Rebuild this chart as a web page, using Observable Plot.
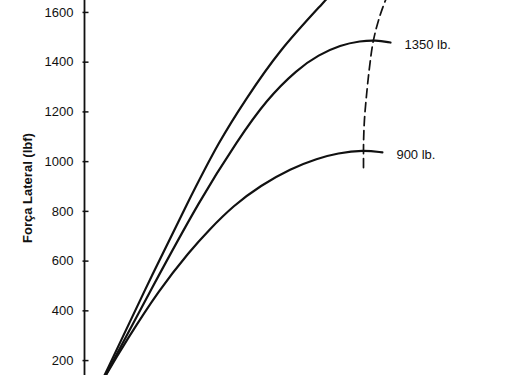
<!DOCTYPE html>
<html>
<head>
<meta charset="utf-8">
<script src="https://cdn.jsdelivr.net/npm/d3@7"></script>
<script src="https://cdn.jsdelivr.net/npm/@observablehq/plot@0.6"></script>
<style>
  html, body { margin: 0; padding: 0; background: #fff; }
  svg { display: block; }
  g[aria-label="y-axis label"] text { font-weight: bold; }
</style>
</head>
<body>
<div id="chart"></div>
<script>
// Slip angle (arbitrary degrees, x axis not visible in the picture) and lateral force (lbf)
const angleUpper = [0.1, 0.67, 2.0, 3.47, 4.5, 5.35, 6.48, 8.03, 8.87];
const forceUpper = [0, 140, 482, 844, 1085, 1246, 1447, 1648, 1761];

const angle1350 = [0.1, 0.73, 2.2, 3.87, 5.1, 6.07, 7.1, 7.8, 8.53, 9.2, 9.7, 10.2];
const force1350 = [0, 148, 482, 852, 1085, 1250, 1372, 1429, 1469, 1485, 1489, 1479];

const angle900 = [0.05, 0.7, 1.4, 2.47, 3.53, 4.13, 4.97, 5.87, 6.87, 7.77, 8.43, 9.3, 9.93];
const force900 = [0, 140, 281, 482, 643, 723, 824, 904, 972, 1013, 1034, 1047, 1037];

// Dashed locus of peak force
const anglePeak = [9.3, 9.3, 9.33, 9.4, 9.5, 9.63, 9.8, 10.03, 10.2];
const forcePeak = [976, 1045, 1165, 1266, 1379, 1487, 1568, 1648, 1696];

const seriesLabels = ["1350 lb.", "900 lb."];
const yTicks = [200, 400, 600, 800, 1000, 1200, 1400, 1600];

const toRows = (xs, ys) => xs.map((x, i) => ({x, y: ys[i]}));
const upper = toRows(angleUpper, forceUpper);
const s1350 = toRows(angle1350, force1350);
const s900 = toRows(angle900, force900);
const peak = toRows(anglePeak, forcePeak);
const labelRows = [
  {...s1350[s1350.length - 1], label: seriesLabels[0]},
  {...s900[s900.length - 1], label: seriesLabels[1]}
];

const chart = Plot.plot({
  width: 507,
  height: 375,
  marginLeft: 84,
  marginRight: 0,
  marginTop: 0,
  marginBottom: 0,
  style: {fontFamily: "'Liberation Sans', Arial, sans-serif", fontSize: "13px", color: "#111", background: "#fff"},
  x: {domain: [0, 14.1], axis: null},
  y: {domain: [140, 1648]},
  marks: [
    Plot.axisY(yTicks, {
      tickSize: 0, tickPadding: 11, fontSize: 13, tickFormat: d => String(d),
      label: "Força Lateral (lbf)", labelAnchor: "center", labelArrow: "none", labelOffset: 62
    }),
    Plot.ruleX([0], {stroke: "#111", strokeWidth: 1.8}),
    Plot.ruleY(yTicks, {y: d => d, x1: -0.05, x2: 0.15, stroke: "#111", strokeWidth: 1.5}),
    Plot.line(upper, {x: "x", y: "y", curve: "basis", stroke: "#111", strokeWidth: 2.2, clip: true}),
    Plot.line(s1350, {x: "x", y: "y", curve: "basis", stroke: "#111", strokeWidth: 2.2, clip: true}),
    Plot.line(s900, {x: "x", y: "y", curve: "basis", stroke: "#111", strokeWidth: 2.2, clip: true}),
    Plot.line(peak, {x: "x", y: "y", curve: "monotone-y", stroke: "#111", strokeWidth: 1.7, strokeDasharray: "9,5", clip: true}),
    Plot.text(labelRows, {x: "x", y: "y", text: "label", textAnchor: "start", dx: 14, dy: 2, fontSize: 13, fill: "#111"})
  ]
});
document.getElementById("chart").appendChild(chart);
</script>
</body>
</html>
